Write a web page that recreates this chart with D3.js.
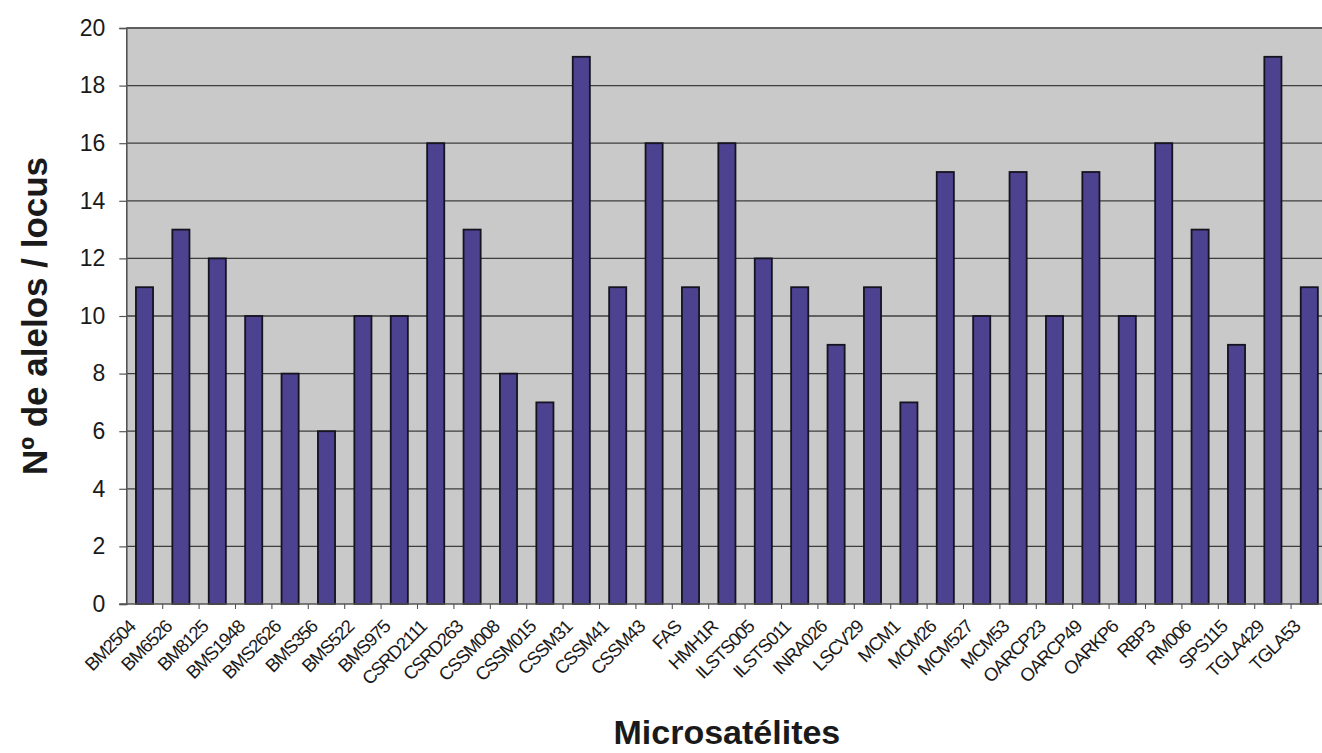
<!DOCTYPE html>
<html>
<head>
<meta charset="utf-8">
<script src="https://cdn.jsdelivr.net/npm/d3@7"></script>
<style>
  html, body { margin: 0; padding: 0; background: #ffffff; }
  svg { display: block; }
  text { font-family: Arial, "Liberation Sans", Helvetica, sans-serif; fill: #1a1a1a; }
</style>
</head>
<body>
<svg id="chart" width="1322" height="753"></svg>
<script>
// Number of alleles observed per microsatellite locus
const loci = [
  "BM2504", "BM6526", "BM8125", "BMS1948", "BMS2626", "BMS356", "BMS522",
  "BMS975", "CSRD2111", "CSRD263", "CSSM008", "CSSM015", "CSSM31", "CSSM41",
  "CSSM43", "FAS", "HMH1R", "ILSTS005", "ILSTS011", "INRA026", "LSCV29",
  "MCM1", "MCM26", "MCM527", "MCM53", "OARCP23", "OARCP49", "OARKP6",
  "RBP3", "RM006", "SPS115", "TGLA429", "TGLA53"
];
const alleles = [
  11, 13, 12, 10, 8, 6, 10,
  10, 16, 13, 8, 7, 19, 11,
  16, 11, 16, 12, 11, 9, 11,
  7, 15, 10, 15, 10, 15, 10,
  16, 13, 9, 19, 11
];
const yTicks = [0, 2, 4, 6, 8, 10, 12, 14, 16, 18, 20];
const yTitle = "Nº de alelos / locus";
const xTitle = "Microsatélites";

const svg = d3.select("#chart");
const plot = { left: 126.3, right: 1327.5, top: 28, bottom: 604 };

const x = d3.scaleBand()
  .domain(loci)
  .range([plot.left, plot.right])
  .paddingInner(0.53)
  .paddingOuter(0.265);

const y = d3.scaleLinear()
  .domain([0, 20])
  .range([plot.bottom, plot.top]);

// Plot area background
svg.append("rect")
  .attr("x", plot.left)
  .attr("y", plot.top)
  .attr("width", plot.right - plot.left)
  .attr("height", plot.bottom - plot.top)
  .attr("fill", "#c9c9c9");

// Horizontal gridlines
svg.append("g")
  .selectAll("line")
  .data(yTicks.filter(d => d > 0))
  .join("line")
  .attr("x1", plot.left)
  .attr("x2", plot.right)
  .attr("y1", d => y(d))
  .attr("y2", d => y(d))
  .attr("stroke", d => d === 20 ? "#5e5e5e" : "#3e3e3e")
  .attr("stroke-width", d => d === 20 ? 1.8 : 1.3);

// Bars
svg.append("g")
  .selectAll("rect")
  .data(loci.map((name, i) => ({ name, value: alleles[i] })))
  .join("rect")
  .attr("x", d => x(d.name))
  .attr("y", d => y(d.value))
  .attr("width", x.bandwidth())
  .attr("height", d => y(0) - y(d.value))
  .attr("fill", "#4c4290")
  .attr("stroke", "#15131f")
  .attr("stroke-width", 1.8);

// Y axis
const yAxis = svg.append("g")
  .attr("transform", `translate(${plot.left},0)`)
  .call(d3.axisLeft(y).tickValues(yTicks).tickSize(7).tickPadding(14).tickFormat(d3.format("d")));
yAxis.select(".domain").attr("stroke", "#555").attr("stroke-width", 1.6);
yAxis.selectAll(".tick line").attr("stroke", "#555").attr("stroke-width", 1.2);
yAxis.selectAll(".tick text")
  .attr("font-size", 23)
  .attr("font-family", "Arial, 'Liberation Sans', sans-serif")
  .attr("fill", "#1a1a1a");

// X axis: ticks on category boundaries
const xAxis = svg.append("g")
  .attr("transform", `translate(0,${plot.bottom})`);
xAxis.append("line")
  .attr("x1", plot.left - 7)
  .attr("x2", plot.right)
  .attr("y1", 0).attr("y2", 0)
  .attr("stroke", "#555")
  .attr("stroke-width", 1.6);
const step = x.step();
xAxis.selectAll("line.tick")
  .data(loci)
  .join("line")
  .attr("class", "tick")
  .attr("x1", d => x(d) - x.paddingOuter() * step + step)
  .attr("x2", d => x(d) - x.paddingOuter() * step + step)
  .attr("y1", 0).attr("y2", 5)
  .attr("stroke", "#555")
  .attr("stroke-width", 1.1);

// Rotated category labels
xAxis.selectAll("text.lbl")
  .data(loci)
  .join("text")
  .attr("class", "lbl")
  .attr("text-anchor", "end")
  .attr("font-size", 18.5)
  .attr("letter-spacing", "-1.1px")
  .attr("transform", d => `translate(${x(d) + x.bandwidth() / 2 - 8},${24}) rotate(-45)`)
  .text(d => d);

// Axis titles
svg.append("text")
  .attr("transform", `translate(47,${(plot.top + plot.bottom) / 2}) rotate(-90)`)
  .attr("text-anchor", "middle")
  .attr("font-size", 35)
  .attr("font-weight", "bold")
  .text(yTitle);

svg.append("text")
  .attr("x", (plot.left + plot.right) / 2)
  .attr("y", 744)
  .attr("text-anchor", "middle")
  .attr("font-size", 34)
  .attr("font-weight", "bold")
  .text(xTitle);
</script>
</body>
</html>
